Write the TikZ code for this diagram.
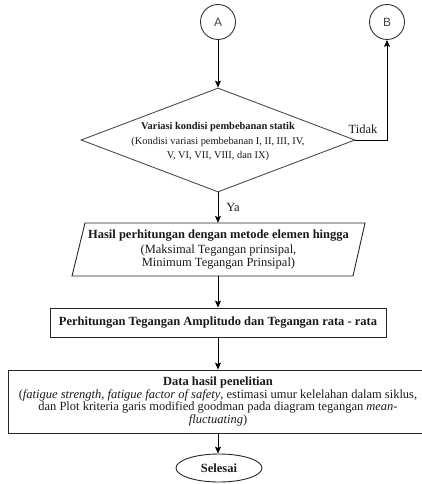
\documentclass[tikz,border=0pt]{standalone}
\usepackage{fontspec}
\setmainfont{Liberation Serif}
\newfontfamily\connfont{Liberation Sans}
\usetikzlibrary{shapes.geometric, arrows.meta}

\tikzset{
  connector/.style={draw=black!80, line width=0.9pt, minimum size=35pt, inner sep=0pt, circle,
    font=\connfont\fontsize{12}{14}\selectfont, text=black!75},
  boxline/.style={draw=black!85, line width=0.9pt},
  flow/.style={line width=0.9pt, -{Stealth[length=7pt, width=6pt, inset=1.5pt]}},
  txt/.style={font=\fontsize{12.5}{12.5}\selectfont, align=center, text=black!90},
  smalltxt/.style={font=\fontsize{10.4}{14.5}\selectfont, align=center, text=black!90},
}

\begin{document}
\begin{tikzpicture}[x=1pt, y=-1pt]
  \useasboundingbox (0,0) rectangle (422,484);

  % off-page connectors
  \node[connector] (A) at (218,22) {A};
  \node[connector] (B) at (387,22) {B};

  % decision
  \node[diamond, boxline, draw=black!70, minimum width=274pt, minimum height=104pt, inner sep=0pt] (dec) at (218,140) {};
  \node[smalltxt] (dectxt) at (218,141.5) {\textbf{Variasi kondisi pembebanan statik}\\
    (Kondisi variasi pembebanan I, II, III, IV,\\ V, VI, VII, VIII, dan IX)};

  % input/output: finite element results
  \node[minimum width=270pt, minimum height=53pt, inner sep=0pt] (fem) at (218.5,249.5) {};
  \draw[boxline] (85,223) -- (365,223) -- (353,276) -- (72,276) -- cycle;
  \node[txt] (femtxt) at (218.5,249.5) {\textbf{Hasil perhitungan dengan metode elemen hingga}\\[2.5pt]
    (Maksimal Tegangan prinsipal,\\ Minimum Tegangan Prinsipal)};

  % process
  \node[boxline, minimum width=336pt, minimum height=29pt, inner sep=0pt, txt] (calc) at (218,322.5)
    {\textbf{Perhitungan Tegangan Amplitudo dan Tegangan rata - rata}};

  % results
  \node[boxline, minimum width=420pt, minimum height=63pt, inner sep=0pt, txt] (res) at (218,401.5)
    {\textbf{Data hasil penelitian}\\
     (\textit{fatigue strength}, \textit{fatigue factor of safety}, estimasi umur kelelahan dalam siklus,\\
     dan Plot kriteria garis modified goodman pada diagram tegangan \textit{mean-}\\
     \textit{fluctuating})};

  % terminator
  \node[ellipse, boxline, minimum width=86pt, minimum height=28pt, inner sep=0pt, txt] (end) at (219,468)
    {\textbf{Selesai}};

  % connectors
  \draw[flow] (A) -- (dec.north);
  \draw[flow] (dec.east) -| (B.south);
  \draw[flow] (dec.south) -- (dec.south |- fem.north);
  \draw[flow] (dec.south |- fem.south) -- (calc.north -| dec.south);
  \draw[flow] (calc.south -| dec.south) -- (res.north -| dec.south);
  \draw[flow] (res.south -| dec.south) -- (end.north -| dec.south);

  % branch labels
  \node[txt] (no) at (363,129) {Tidak};
  \node[txt] (yes) at (233,207) {Ya};
\end{tikzpicture}
\end{document}
